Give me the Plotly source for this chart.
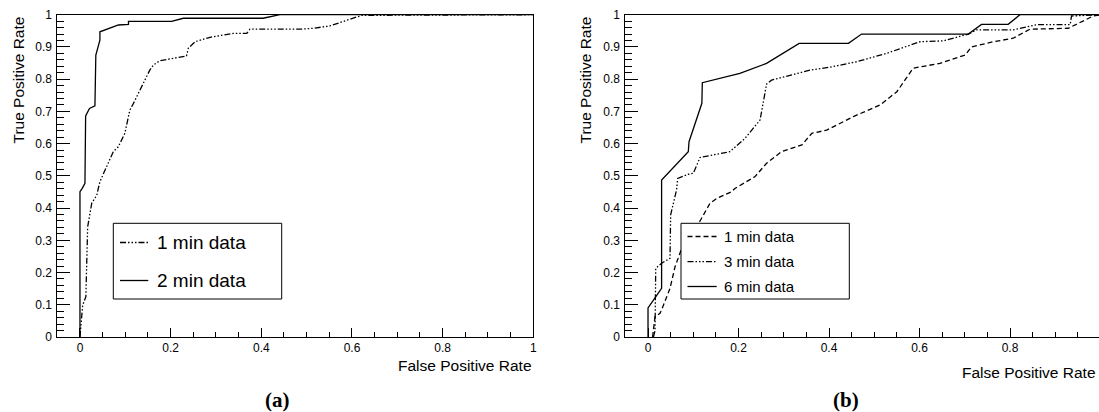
import plotly.graph_objects as go

# ---------------- data ----------------
# panel (a)
fpr_a_1min = [0, 0.006, 0.013, 0.017, 0.026, 0.037, 0.044, 0.0735, 0.0845, 0.099, 0.110, 0.118,
              0.154, 0.162, 0.176, 0.199, 0.235, 0.239, 0.254, 0.287, 0.338, 0.368, 0.375, 0.485,
              0.515, 0.551, 0.581, 0.621, 1.0]
tpr_a_1min = [0, 0.099, 0.125, 0.342, 0.415, 0.44, 0.482, 0.575, 0.59, 0.632, 0.704, 0.725,
              0.828, 0.844, 0.857, 0.862, 0.872, 0.896, 0.916, 0.930, 0.942, 0.942, 0.955, 0.955,
              0.958, 0.965, 0.979, 0.998, 1.0]
fpr_a_2min = [0, 0, 0.005, 0.011, 0.0125, 0.021, 0.033, 0.035, 0.044, 0.044, 0.085, 0.107, 0.107,
              0.202, 0.228, 0.404, 0.441, 1.0]
tpr_a_2min = [0, 0.451, 0.461, 0.477, 0.686, 0.709, 0.717, 0.875, 0.921, 0.947, 0.968, 0.970, 0.979,
              0.979, 0.989, 0.989, 1.0, 1.0]

# panel (b)
fpr_b_1min = [0.010, 0.0118, 0.0155, 0.0265, 0.030, 0.0486, 0.0597, 0.0745, 0.0745, 0.115, 0.137,
              0.152, 0.185, 0.192, 0.214, 0.236, 0.262, 0.281, 0.295, 0.340, 0.362, 0.395, 0.424,
              0.454, 0.513, 0.550, 0.586, 0.645, 0.701, 0.715, 0.763, 0.807, 0.844, 0.929, 0.984, 1.0]
tpr_b_1min = [0.0, 0.022, 0.063, 0.0735, 0.084, 0.151, 0.218, 0.275, 0.29, 0.360, 0.415,
              0.43, 0.451, 0.461, 0.48, 0.497, 0.539, 0.559, 0.575, 0.596, 0.632, 0.642, 0.663,
              0.684, 0.720, 0.761, 0.834, 0.849, 0.875, 0.900, 0.916, 0.927, 0.955, 0.958, 0.996, 1.0]
fpr_b_3min = [0.012, 0.0155, 0.017, 0.030, 0.0486, 0.050, 0.063, 0.0656, 0.089, 0.100, 0.115, 0.181,
              0.214, 0.2475, 0.251, 0.262, 0.273, 0.358, 0.402, 0.461, 0.527, 0.601, 0.653, 0.708,
              0.726, 0.807, 0.859, 0.933, 0.936, 1.0]
tpr_b_3min = [0.0, 0.02, 0.213, 0.229, 0.244, 0.379, 0.456, 0.492, 0.505, 0.508, 0.557, 0.575,
              0.616, 0.673, 0.699, 0.785, 0.797, 0.828, 0.837, 0.854, 0.880, 0.916, 0.919, 0.940,
              0.953, 0.953, 0.969, 0.969, 0.996, 1.0]
fpr_b_6min = [0, 0, 0.030, 0.030, 0.089, 0.0906, 0.119, 0.120, 0.203, 0.262, 0.334, 0.443, 0.472,
              0.708, 0.737, 0.796, 0.822, 1.0]
tpr_b_6min = [0, 0.090, 0.151, 0.487, 0.575, 0.606, 0.725, 0.789, 0.818, 0.849, 0.911, 0.911, 0.940,
              0.940, 0.970, 0.970, 1.0, 1.0]

x_ticks = [0, 0.2, 0.4, 0.6, 0.8, 1.0]
x_tick_labels = ["0", "0.2", "0.4", "0.6", "0.8", "1"]
y_ticks = [0, 0.1, 0.2, 0.3, 0.4, 0.5, 0.6, 0.7, 0.8, 0.9, 1.0]
y_tick_labels = ["0", "0.1", "0.2", "0.3", "0.4", "0.5", "0.6", "0.7", "0.8", "0.9", "1"]

legend_a = ["1 min data", "2 min data"]
legend_b = ["1 min data", "3 min data", "6 min data"]
x_title = "False Positive Rate"
y_title = "True Positive Rate"
panel_labels = ["(a)", "(b)"]

# ---------------- styling ----------------
W, H = 1099, 412
FONT = "Liberation Sans, Arial, Helvetica, sans-serif"
DASH = "5px,3px"
DASHDOT3 = "6px,2px,1.5px,2px,1.5px,2px,1.5px,2px"
LW = 1.3


def px(p):
    return p / W


def py(p):
    return 1 - p / H


fig = go.Figure()

fig.add_trace(go.Scatter(x=fpr_a_1min, y=tpr_a_1min, mode="lines", xaxis="x", yaxis="y",
                         line=dict(color="black", width=LW, dash=DASHDOT3), showlegend=False))
fig.add_trace(go.Scatter(x=fpr_a_2min, y=tpr_a_2min, mode="lines", xaxis="x", yaxis="y",
                         line=dict(color="black", width=LW), showlegend=False))
fig.add_trace(go.Scatter(x=fpr_b_1min, y=tpr_b_1min, mode="lines", xaxis="x2", yaxis="y2",
                         line=dict(color="black", width=LW, dash=DASH), showlegend=False))
fig.add_trace(go.Scatter(x=fpr_b_3min, y=tpr_b_3min, mode="lines", xaxis="x2", yaxis="y2",
                         line=dict(color="black", width=LW, dash=DASHDOT3), showlegend=False))
fig.add_trace(go.Scatter(x=fpr_b_6min, y=tpr_b_6min, mode="lines", xaxis="x2", yaxis="y2",
                         line=dict(color="black", width=LW), showlegend=False))

tickfont = dict(family=FONT, size=12, color="black")


def xaxis_cfg(domain, rng, anchor, mirror=True):
    return dict(domain=domain, range=rng, anchor=anchor, automargin=False,
                showgrid=False, zeroline=False,
                showline=True, linecolor="black", linewidth=1, mirror=mirror,
                ticks="inside", ticklen=9, tickwidth=1, tickcolor="black",
                tickvals=x_ticks, ticktext=x_tick_labels, tickfont=tickfont,
                minor=dict(dtick=0.05, tick0=0, ticks="inside", ticklen=5, tickcolor="black",
                           tickwidth=1, showgrid=False),
                fixedrange=True)


def yaxis_cfg(domain, anchor, mirror=True):
    return dict(domain=domain, range=[0, 1], anchor=anchor, automargin=False,
                showgrid=False, zeroline=False,
                showline=True, linecolor="black", linewidth=1, mirror=mirror,
                ticks="inside", ticklen=13, tickwidth=1, tickcolor="black",
                tickvals=y_ticks, ticktext=y_tick_labels, tickfont=tickfont,
                ticklabelstandoff=2,
                minor=dict(dtick=0.02, tick0=0, ticks="inside", ticklen=7, tickcolor="black",
                           tickwidth=1, showgrid=False),
                fixedrange=True)


ydom = [py(337), py(14.7)]
fig.update_layout(
    width=W, height=H, margin=dict(l=0, r=0, t=0, b=0, autoexpand=False),
    paper_bgcolor="white", plot_bgcolor="white",
    xaxis=xaxis_cfg([px(57.3), px(533.3)], [-0.05, 1.0], "y"),
    yaxis=yaxis_cfg(ydom, "x"),
    xaxis2=xaxis_cfg([px(625.4), 1.0], [-0.05, 0.9967], "y2"),
    yaxis2=yaxis_cfg(ydom, "x2", mirror=False),
)

shapes = []
annotations = []

# axis titles
for xx in [18, 585]:
    annotations.append(dict(text=y_title, x=px(xx), y=py(15), xref="paper", yref="paper",
                            textangle=-90, xanchor="center", yanchor="top", showarrow=False,
                            font=dict(family=FONT, size=15.5, color="black")))
annotations.append(dict(text=x_title, x=px(534), y=py(365), xref="paper", yref="paper",
                        xanchor="right", yanchor="middle", showarrow=False,
                        font=dict(family=FONT, size=15.5, color="black")))
annotations.append(dict(text=x_title, x=px(1098), y=py(372), xref="paper", yref="paper",
                        xanchor="right", yanchor="middle", showarrow=False,
                        font=dict(family=FONT, size=15.5, color="black")))

# panel labels
for lab, cx in zip(panel_labels, [277, 846]):
    annotations.append(dict(text="<b>" + lab + "</b>", x=px(cx), y=py(400), xref="paper",
                            yref="paper", xanchor="center", yanchor="middle", showarrow=False,
                            font=dict(family="Liberation Serif, Times New Roman, serif",
                                      size=21, color="black")))

# legend (a)
shapes.append(dict(type="rect", xref="paper", yref="paper", x0=px(113.3), x1=px(281.7),
                   y0=py(299), y1=py(223.3), line=dict(color="black", width=1),
                   fillcolor="white", layer="above"))
for lab, yy, dash in zip(legend_a, [242.5, 280.5], [DASHDOT3, "solid"]):
    shapes.append(dict(type="line", xref="paper", yref="paper", x0=px(120), x1=px(148.3),
                       y0=py(yy), y1=py(yy), line=dict(color="black", width=LW, dash=dash),
                       layer="above"))
    annotations.append(dict(text=lab, x=px(155), y=py(yy), xref="paper", yref="paper",
                            xanchor="left", yanchor="middle", showarrow=False,
                            font=dict(family=FONT, size=19, color="black")))

# legend (b)
shapes.append(dict(type="rect", xref="paper", yref="paper", x0=px(681), x1=px(849.3),
                   y0=py(299), y1=py(223.3), line=dict(color="black", width=1),
                   fillcolor="white", layer="above"))
for lab, yy, dash in zip(legend_b, [236.5, 261.7, 286.5], [DASH, DASHDOT3, "solid"]):
    shapes.append(dict(type="line", xref="paper", yref="paper", x0=px(687.5), x1=px(716.7),
                       y0=py(yy), y1=py(yy), line=dict(color="black", width=LW, dash=dash),
                       layer="above"))
    annotations.append(dict(text=lab, x=px(722), y=py(yy), xref="paper", yref="paper",
                            xanchor="left", yanchor="middle", showarrow=False,
                            font=dict(family=FONT, size=15, color="black")))

fig.update_layout(shapes=shapes, annotations=annotations)
fig.write_html(
    "out.html",
    config={"displayModeBar": False, "staticPlot": True},
    post_script="document.body.style.margin='0';document.body.style.padding='0';"
                "document.body.style.overflow='hidden';",
)
